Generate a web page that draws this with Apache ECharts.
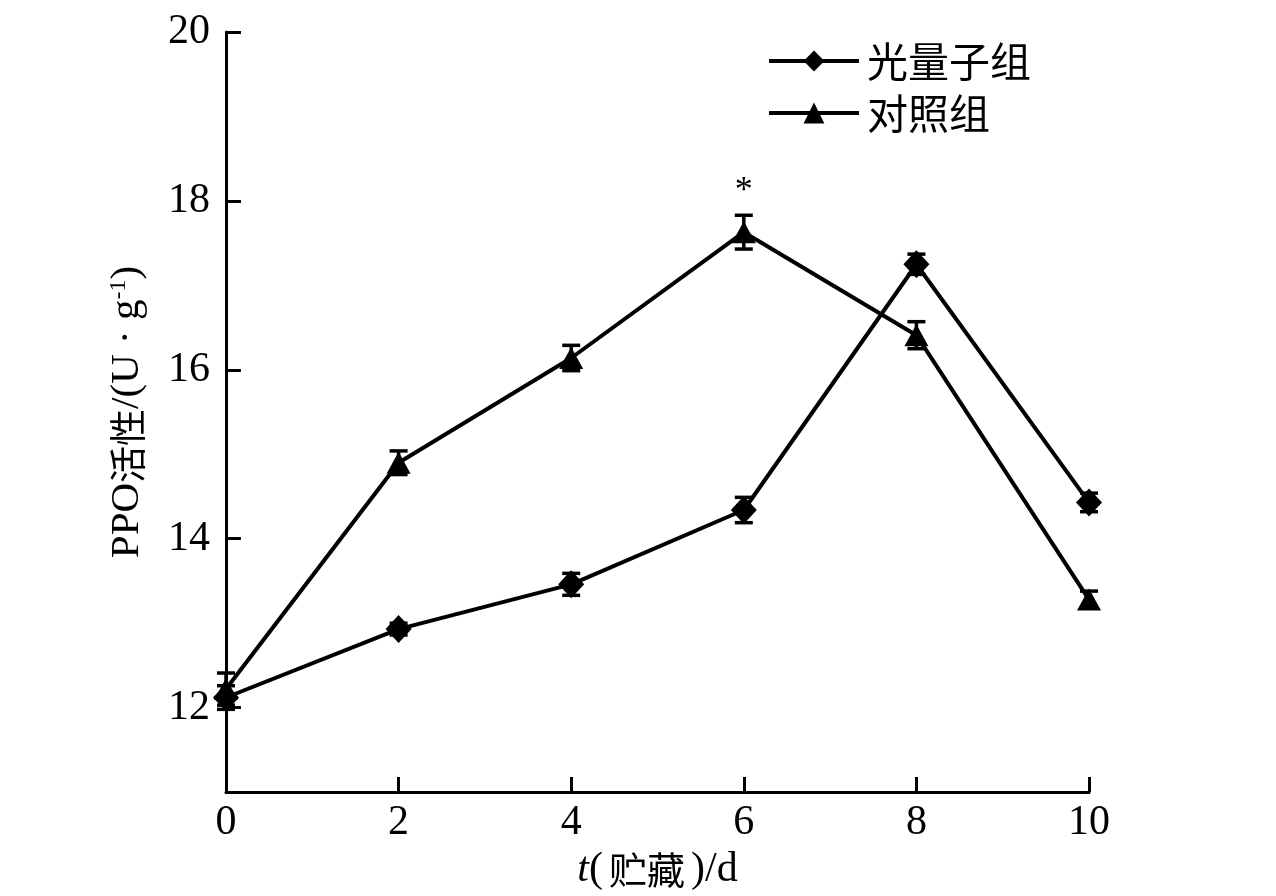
<!DOCTYPE html>
<html><head><meta charset="utf-8">
<script src="https://cdn.jsdelivr.net/npm/echarts@6/dist/echarts.min.js"></script>
<style>html,body{margin:0;padding:0;background:#fff}#c{width:1276px;height:896px}</style>
</head><body><div id="c"></div>
<script>
var days = [0, 2, 4, 6, 8, 10];
var quantumMean = [12.12, 12.93, 13.46, 14.34, 17.25, 14.43];
var quantumErr  = [0.14, 0.07, 0.13, 0.15, 0.12, 0.11];
var controlMean = [12.22, 14.90, 16.14, 17.63, 16.41, 13.28];
var controlErr  = [0.19, 0.14, 0.15, 0.20, 0.16, 0.10];
var yTicks = [12, 14, 16, 18, 20];
var xTicks = [0, 2, 4, 6, 8, 10];
var seriesNames = ['光量子组', '对照组'];
var sigMarkIndex = 3; // '*' over control at day 6

var serif = '"Liberation Serif","Noto Sans CJK SC",serif';
var cjk = '"Noto Sans CJK SC","Liberation Serif",serif';

function pairs(xs, ys){ return xs.map(function(x,i){return [x, ys[i]];}); }
function errData(xs, m, e){ return xs.map(function(x,i){return [x, m[i]-e[i], m[i]+e[i]];}); }

function errRender(params, api){
  var x = api.value(0), lo = api.value(1), hi = api.value(2);
  var p1 = api.coord([x, hi]), p2 = api.coord([x, lo]);
  var w = 9;
  var st = {stroke:'#000', lineWidth:3.5};
  return {type:'group', children:[
    {type:'line', shape:{x1:p1[0],y1:p1[1],x2:p2[0],y2:p2[1]}, style:st},
    {type:'line', shape:{x1:p1[0]-w,y1:p1[1],x2:p1[0]+w,y2:p1[1]}, style:st},
    {type:'line', shape:{x1:p2[0]-w,y1:p2[1],x2:p2[0]+w,y2:p2[1]}, style:st}
  ]};
}

var ctrlData = pairs(days, controlMean).map(function(d,i){
  if(i===sigMarkIndex){
    return {value:d, label:{show:true, formatter:'*', position:'top', distance:12,
      fontSize:36, fontFamily:serif, color:'#000'}};
  }
  return d;
});

var chart = echarts.init(document.getElementById('c'), null, {renderer:'canvas'});
chart.setOption({
  backgroundColor:'#fff',
  animation:false,
  grid:{left:226, right:187, top:32, bottom:102, containLabel:false},
  legend:{
    left:767, top:38, orient:'vertical', padding:0,
    itemWidth:90, itemHeight:26, itemGap:6,
    lineStyle:{width:4},
    textStyle:{fontFamily:cjk, fontSize:41, color:'#000', lineHeight:46, padding:[0,0,0,3]},
    data:seriesNames
  },
  xAxis:{
    type:'value', min:0, max:10, interval:2,
    axisLine:{lineStyle:{color:'#000', width:3}},
    axisTick:{inside:true, length:15, lineStyle:{color:'#000', width:3}},
    axisLabel:{fontFamily:serif, fontSize:42, color:'#000', margin:10},
    splitLine:{show:false},
    name:'{i|t}{n|(}{c|贮藏}{n|)/d}', nameLocation:'middle', nameGap:54,
    nameTextStyle:{rich:{
      i:{fontFamily:serif, fontStyle:'italic', fontSize:42, color:'#000'},
      n:{fontFamily:serif, fontSize:42, color:'#000'},
      c:{fontFamily:cjk, fontSize:38, color:'#000', padding:[0,6,0,6]}
    }}
  },
  yAxis:{
    type:'value', min:11, max:20,
    axisLine:{show:true, lineStyle:{color:'#000', width:3}},
    axisTick:{show:true, inside:true, length:15, customValues:yTicks, lineStyle:{color:'#000', width:3}},
    axisLabel:{fontFamily:serif, fontSize:42, color:'#000', margin:16, customValues:yTicks},
    splitLine:{show:false},
    name:'{n|PPO}{c|活性}{n|/(U · g}{s|-1}{n|)}', nameLocation:'middle', nameGap:78, nameRotate:90,
    nameTextStyle:{rich:{
      n:{fontFamily:serif, fontSize:41, color:'#000'},
      c:{fontFamily:cjk, fontSize:37, color:'#000'},
      s:{fontFamily:serif, fontSize:24, color:'#000', verticalAlign:'top', padding:[0,0,16,0]}
    }}
  },
  series:[
    {name:seriesNames[0], type:'line', data:pairs(days, quantumMean),
      symbol:'diamond', symbolSize:[26,28], z:3,
      lineStyle:{color:'#000', width:4}, itemStyle:{color:'#000'}},
    {name:seriesNames[1], type:'line', data:ctrlData,
      symbol:'triangle', symbolSize:[24,22], z:3,
      lineStyle:{color:'#000', width:4}, itemStyle:{color:'#000'}},
    {type:'custom', renderItem:errRender, data:errData(days, quantumMean, quantumErr), z:4,
      encode:{x:0, y:[1,2]}, silent:true},
    {type:'custom', renderItem:errRender, data:errData(days, controlMean, controlErr), z:4,
      encode:{x:0, y:[1,2]}, silent:true}
  ]
});
</script></body></html>
